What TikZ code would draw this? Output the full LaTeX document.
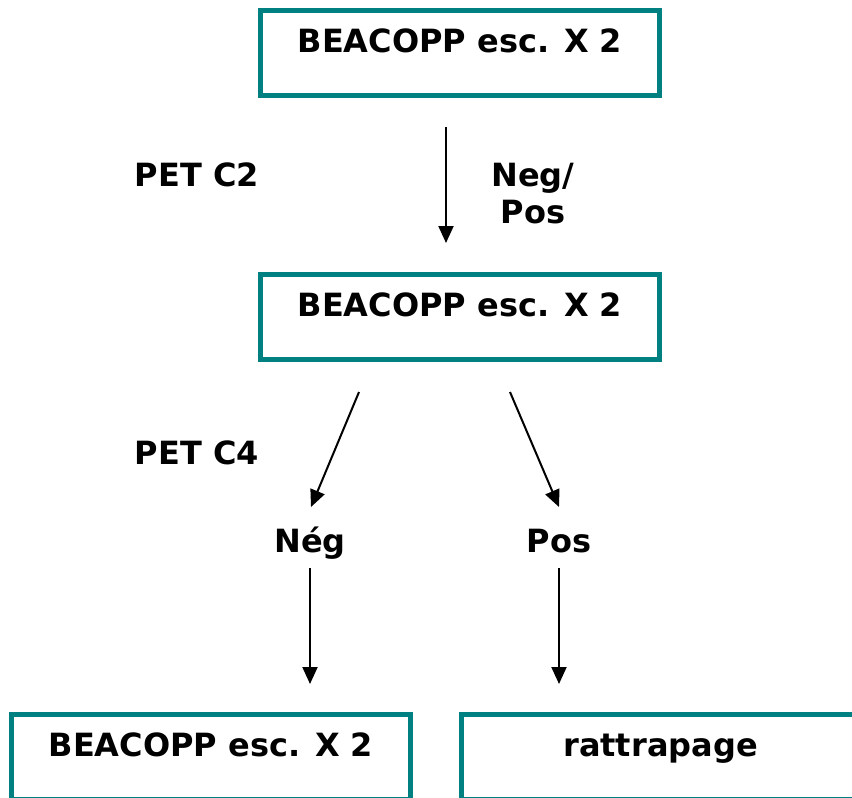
\documentclass[tikz,border=0pt]{standalone}
\usepackage{fontspec}
\setmainfont{DejaVu Sans}
\usetikzlibrary{arrows.meta}
\definecolor{boxteal}{RGB}{0,128,128}
\begin{document}
\begin{tikzpicture}[x=1pt,y=-1pt,
        every node/.style={font=\fontsize{32}{37}\selectfont\bfseries},
        box/.style={draw=boxteal,line width=5pt,minimum width=399pt,minimum height=85pt,
            inner ysep=10pt,text height=31.5pt,text depth=33.5pt},
        lbl/.style={inner sep=0pt,anchor=base,align=center},
        arr/.style={-{Triangle[width=15pt,length=17pt]},line width=2pt}]
        \path[use as bounding box,clip] (0,0) rectangle (852,798);
        \node[box] (B1) at (460,53) {BEACOPP esc. X 2};
        \node[box] (B2) at (460,317) {BEACOPP esc. X 2};
        \node[box] (B3) at (211,757) {BEACOPP esc. X 2};
        \node[box] (R) at (660.5,757) {rattrapage};
        \node[lbl] (C2) at (197,186.5) {PET C2};
        \node[lbl] (NP) at (533,223.5) {Neg/\\Pos};
        \node[lbl] (C4) at (197,464.5) {PET C4};
        \node[lbl] (N) at (310,552) {Nég};
        \node[lbl] (P) at (559,552) {Pos};
        \draw[arr,shorten <=29pt,shorten >=29pt] ([xshift=-14pt]B1.south) -- ([xshift=-14pt]B2.north);
        \draw[arr] ([xshift=-101pt,yshift=-30pt]B2.south) -- ([xshift=1pt,yshift=45pt]N.base);
        \draw[arr] ([xshift=50pt,yshift=-30pt]B2.south) -- ([yshift=45pt]P.base);
        \draw[arr,shorten <=16pt,shorten >=28pt] (N.base) -- (N.base |- B3.north);
        \draw[arr,shorten <=16pt,shorten >=28pt] (P.base) -- (P.base |- R.north);
    \end{tikzpicture}
\end{document}
